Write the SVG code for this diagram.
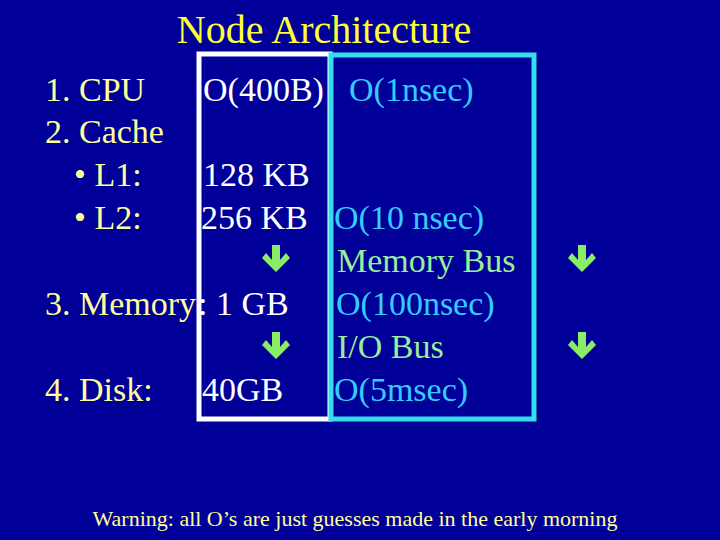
<svg xmlns="http://www.w3.org/2000/svg" width="720" height="540" viewBox="0 0 720 540" font-family="'Liberation Serif', 'DejaVu Serif', serif">
<style>
text{font-family:'Liberation Serif','DejaVu Serif',serif;font-size:34px}
.y{fill:#ffff99}.w{fill:#ffffff}.c{fill:#33ccff}.g{fill:#99ee99}
</style>
<defs>
<path id="arr" d="M-4,-14 H4 V1 L10,-6 L14,-1 L0,13 L-14,-1 L-10,-6 L-4,1 Z" fill="#88ee66"/>
</defs>
<rect width="720" height="540" fill="#000099"/>
<text x="324" y="43" text-anchor="middle" fill="#ffff33" style="font-size:40px">Node Architecture</text>
<g id="boxes" fill="none" stroke-width="5">
<rect x="199" y="54" width="131" height="365" stroke="#ffffff"/>
<rect x="331" y="55" width="203" height="364" stroke="#33ddee"/>
</g>
<g id="left">
<text x="45" y="101" class="y">1. CPU</text>
<text x="45" y="143" class="y">2. Cache</text>
<text x="74" y="186" class="y">•  L1:</text>
<text x="74" y="229" class="y">•  L2:</text>
<text x="45" y="315" class="y">3. Memory</text>
<text x="45" y="401" class="y">4. Disk:</text>
</g>
<g id="mid">
<text x="203" y="101" class="w">O(400B)</text>
<text x="203" y="186" class="w">128 KB</text>
<text x="201" y="229" class="w">256 KB</text>
<text x="198" y="315" class="w">: 1 GB</text>
<text x="202" y="401" class="w">40GB</text>
</g>
<g id="right">
<text x="349" y="101" class="c">O(1nsec)</text>
<text x="334" y="229" class="c">O(10 nsec)</text>
<text x="337" y="272" class="g">Memory Bus</text>
<text x="336" y="315" class="c">O(100nsec)</text>
<text x="337" y="358" class="g">I/O Bus</text>
<text x="334" y="401" class="c">O(5msec)</text>
</g>
<g id="arrows">
<use href="#arr" x="276" y="259"/>
<use href="#arr" x="276" y="346"/>
<use href="#arr" x="582" y="259"/>
<use href="#arr" x="582" y="346"/>
</g>
<text x="355" y="526" text-anchor="middle" fill="#ffff99" style="font-size:22px">Warning: all O’s are just guesses made in the early morning</text>
</svg>
